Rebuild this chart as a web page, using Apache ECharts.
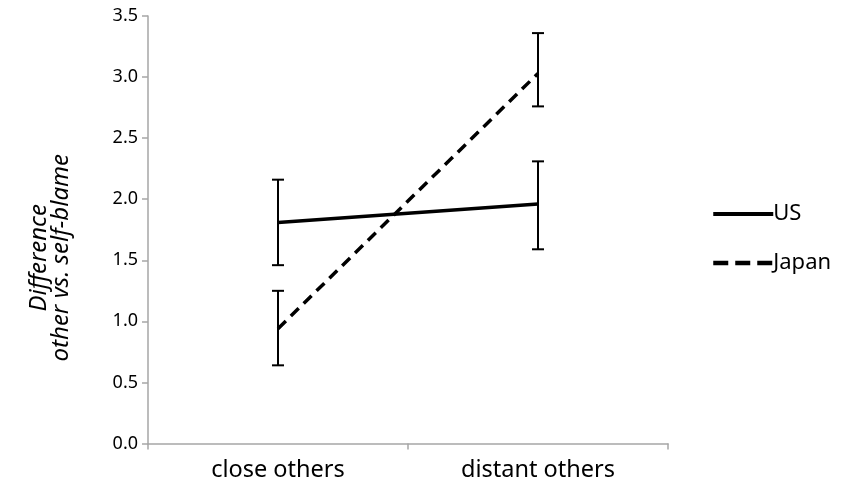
<!DOCTYPE html>
<html><head><meta charset="utf-8">
<script src="https://cdn.jsdelivr.net/npm/echarts@6/dist/echarts.min.js"></script>
<style>html,body{margin:0;padding:0;background:#fff}#c{width:841px;height:494px}</style>
</head><body><div id="c"></div>
<script>
const categories = ['close others', 'distant others'];
const usValues = [1.81, 1.96];
const usLow = [1.46, 1.59];
const usHigh = [2.16, 2.31];
const japanValues = [0.94, 3.03];
const japanLow = [0.64, 2.76];
const japanHigh = [1.25, 3.36];
const yTicks = [0, 0.5, 1.0, 1.5, 2.0, 2.5, 3.0, 3.5];

const errData = [];
for (let i = 0; i < categories.length; i++) {
  errData.push([i, usLow[i], usHigh[i]]);
  errData.push([i, japanLow[i], japanHigh[i]]);
}
const font = 'Noto Sans';
const chart = echarts.init(document.getElementById('c'));
chart.setOption({
  animation: false,
  grid: { left: 148, right: 173, top: 16, bottom: 50.5 },
  legend: {
    orient: 'vertical', left: 706, top: 198, itemWidth: 60, itemHeight: 14, itemGap: 27,
    itemStyle: { opacity: 0 },
    textStyle: { fontFamily: font, fontSize: 22, color: '#000', padding: [0,0,0,-5] },
    data: [
      { name: 'US', lineStyle: { width: 4 } },
      { name: 'Japan', lineStyle: { width: 4.5, type: [15, 7] } }
    ]
  },
  xAxis: {
    type: 'category', data: categories, boundaryGap: true,
    axisLine: { lineStyle: { color: '#a6a6a6', width: 1.5 } },
    axisTick: { show: true, length: 6, alignWithLabel: false, lineStyle: { color: '#a6a6a6', width: 1.5 } },
    axisLabel: { fontFamily: font, fontSize: 23.5, color: '#000', margin: 15 }
  },
  yAxis: {
    type: 'value', min: yTicks[0], max: yTicks[yTicks.length - 1], interval: 0.5,
    name: 'Difference\nother vs. self-blame', nameLocation: 'middle', nameRotate: 90, nameGap: 76,
    nameTextStyle: { fontFamily: font, fontSize: 24, fontStyle: 'italic', color: '#000', lineHeight: 22, padding: [0, 56, 0, 0] },
    axisLine: { show: true, lineStyle: { color: '#a6a6a6', width: 1.5 } },
    axisTick: { show: true, length: 6, lineStyle: { color: '#a6a6a6', width: 1.5 } },
    splitLine: { show: false },
    axisLabel: { fontFamily: font, fontSize: 18, color: '#000', margin: 10, formatter: v => v.toFixed(1) }
  },
  series: [
    { name: 'US', type: 'line', data: usValues, symbol: 'none', lineStyle: { color: '#000', width: 3.5 }, itemStyle: { color: '#000' } },
    { name: 'Japan', type: 'line', data: japanValues, symbol: 'none', lineStyle: { color: '#000', width: 3.5, type: [11, 7] }, itemStyle: { color: '#000' } },
    {
      type: 'custom', data: errData, z: 5,
      renderItem: function (params, api) {
        const x = api.value(0);
        const lo = api.coord([x, api.value(1)]);
        const hi = api.coord([x, api.value(2)]);
        const w = 6;
        const st = { stroke: '#000', lineWidth: 2 };
        return { type: 'group', children: [
          { type: 'line', shape: { x1: lo[0], y1: lo[1], x2: hi[0], y2: hi[1] }, style: st },
          { type: 'line', shape: { x1: lo[0] - w, y1: lo[1], x2: lo[0] + w, y2: lo[1] }, style: st },
          { type: 'line', shape: { x1: hi[0] - w, y1: hi[1], x2: hi[0] + w, y2: hi[1] }, style: st }
        ]};
      }
    }
  ]
});
</script></body></html>
